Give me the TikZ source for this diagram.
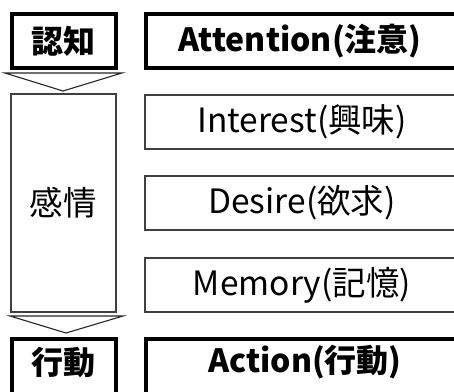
\documentclass[tikz,border=0pt]{standalone}
\usepackage{fontspec}
\setmainfont{Noto Sans CJK JP}
\begin{document}
\begin{tikzpicture}[x=1pt,y=-1pt,
  thinbox/.style={draw=black!75,line width=1.1pt,fill=white},
  thickbox/.style={draw=black,line width=4pt,fill=white},
  chev/.style={draw=black!85,line width=1.1pt,fill=white,line join=miter},
  lbl/.style={font=\fontsize{33.5}{33.5}\selectfont,inner sep=0pt,anchor=center},
  blbl/.style={font=\fontsize{32}{32}\selectfont\bfseries,inner sep=0pt,anchor=center}]
\useasboundingbox (0,0) rectangle (454,391);
\begin{scope}
\clip (0,0) rectangle (454,391);
% left column
\draw[thickbox] (12,14) rectangle (116,68);
\node[blbl] (ninchi) at (63,41) {認知};
\coordinate (c1a) at (5,73);
\coordinate (c1b) at (122,73);
\coordinate (c1c) at (63,91);
\draw[chev] (c1a) -- (c1b) -- (c1c) -- cycle;
\draw[thinbox] (11,94) rectangle (116,312);
\node[lbl] (kanjo) at (63,203) {感情};
\coordinate (c2a) at (10,316);
\coordinate (c2b) at (123,316);
\coordinate (c2c) at (66,333);
\draw[chev] (c2a) -- (c2b) -- (c2c) -- cycle;
\draw[thickbox] (12,339) rectangle (116,400);
\node[blbl] (kodo) at (63,362) {行動};
% right column
\draw[thickbox] (146,14) rectangle (458,68);
\node[blbl] (att) at (300,41) {Attention(注意)};
\draw[thinbox] (145,95) rectangle (460,149);
\node[lbl] (int) at (302,122) {Interest(興味)};
\draw[thinbox] (145,176) rectangle (460,230);
\node[lbl] (des) at (302,203) {Desire(欲求)};
\draw[thinbox] (145,258) rectangle (460,312);
\node[lbl] (mem) at (302,285) {Memory(記憶)};
\draw[thickbox] (146,339) rectangle (458,400);
\node[blbl] (act) at (305,362) {Action(行動)};
\end{scope}
\end{tikzpicture}
\end{document}
